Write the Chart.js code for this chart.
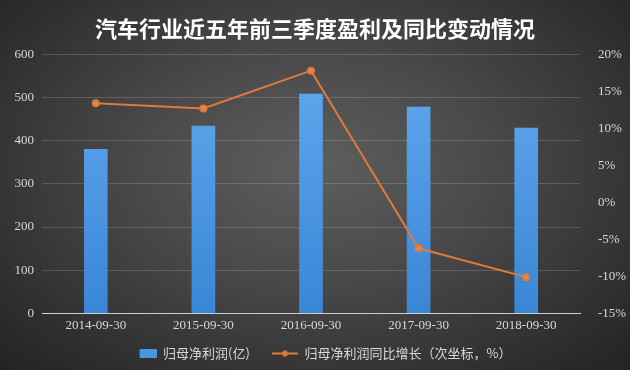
<!DOCTYPE html>
<html>
<head>
<meta charset="utf-8">
<script src="https://cdn.jsdelivr.net/npm/chart.js@4/dist/chart.umd.min.js"></script>
<style>
  html, body { margin: 0; padding: 0; }
  body {
    width: 630px;
    height: 370px;
    background: radial-gradient(ellipse at 50% 45%, #5e5e5e 0%, #494949 40%, #2f2f2f 80%, #232323 100%);
    overflow: hidden;
  }
  #wrap { position: relative; width: 630px; height: 370px; }
</style>
</head>
<body>
<div id="wrap"><canvas id="chart" width="630" height="370"></canvas></div>
<script>
const categories = ["2014-09-30", "2015-09-30", "2016-09-30", "2017-09-30", "2018-09-30"];
const profitValues = [381, 435, 509, 479, 430];
const growthValues = [13.4, 12.7, 17.8, -6.2, -10.1];
const profitLabel = "归母净利润(亿)";
const growthLabel = "归母净利润同比增长（次坐标，%）";
const titleText = "汽车行业近五年前三季度盈利及同比变动情况";

const tickFont = { family: "'Liberation Serif', 'DejaVu Serif', serif", size: 13 };
const cjkFont = "'Noto Sans CJK SC', sans-serif";
const lineColor = "#e07a3a";
const barColor = "#4a96e0";
const markerW = 38;

function barGradient(context) {
  const chart = context.chart;
  const area = chart.chartArea;
  if (!area) return barColor;
  const g = chart.ctx.createLinearGradient(0, area.top, 0, area.bottom);
  g.addColorStop(0, "#62aaf0");
  g.addColorStop(1, "#3a86d6");
  return g;
}

// legend markers, right-aligned inside a wider box so the items get a gap
function lineMarker() {
  const c = document.createElement("canvas");
  c.width = markerW;
  c.height = 10;
  const g = c.getContext("2d");
  g.strokeStyle = lineColor;
  g.lineWidth = 2;
  g.beginPath();
  g.moveTo(markerW - 26, 5);
  g.lineTo(markerW, 5);
  g.stroke();
  g.fillStyle = lineColor;
  g.beginPath();
  g.arc(markerW - 13, 5, 3, 0, Math.PI * 2);
  g.fill();
  return c;
}

function barMarker() {
  const c = document.createElement("canvas");
  c.width = markerW;
  c.height = 9;
  const g = c.getContext("2d");
  g.fillStyle = barColor;
  g.fillRect(markerW - 17, 0, 17, 9);
  return c;
}

const ctx = document.getElementById("chart").getContext("2d");
new Chart(ctx, {
  type: "bar",
  data: {
    labels: categories,
    datasets: [
      {
        type: "line",
        label: growthLabel,
        data: growthValues,
        yAxisID: "y2",
        borderColor: lineColor,
        backgroundColor: lineColor,
        borderWidth: 2,
        pointRadius: 3,
        pointBackgroundColor: "#e8874a",
        pointBorderColor: lineColor,
        tension: 0,
        order: 0
      },
      {
        type: "bar",
        label: profitLabel,
        data: profitValues,
        yAxisID: "y",
        backgroundColor: barGradient,
        barPercentage: 0.22,
        categoryPercentage: 1,
        order: 1
      }
    ]
  },
  options: {
    responsive: false,
    animation: false,
    layout: { padding: { top: 4, bottom: 0, left: 0, right: 0 } },
    scales: {
      x: {
        grid: { display: false, drawTicks: false },
        border: { color: "#cfcfcf", width: 1 },
        ticks: { color: "#d8d8d8", font: tickFont, padding: 4, maxRotation: 0 }
      },
      y: {
        position: "left",
        min: 0,
        max: 600,
        ticks: { stepSize: 100, color: "#d8d8d8", font: tickFont, padding: 8 },
        grid: { color: "rgba(255,255,255,0.16)", drawTicks: false },
        border: { display: false },
        afterFit: scale => { scale.width = 42; }
      },
      y2: {
        position: "right",
        min: -15,
        max: 20,
        ticks: {
          stepSize: 5,
          color: "#d8d8d8",
          font: tickFont,
          padding: 10,
          callback: v => v + "%"
        },
        grid: { display: false },
        border: { display: false },
        afterFit: scale => { scale.width = 50; }
      }
    },
    plugins: {
      title: {
        display: true,
        text: titleText,
        color: "#ffffff",
        font: { family: cjkFont, size: 22, weight: "bold" },
        padding: { top: 11, bottom: 13 }
      },
      legend: {
        position: "bottom",
        reverse: true,
        labels: {
          color: "#d8d8d8",
          font: { family: cjkFont, size: 13 },
          usePointStyle: true,
          pointStyleWidth: markerW,
          padding: 10,
          generateLabels: chart => chart.data.datasets.map((ds, i) => ({
            text: ds.label,
            fillStyle: ds.type === "bar" ? barColor : lineColor,
            strokeStyle: ds.type === "bar" ? barColor : lineColor,
            fontColor: "#d8d8d8",
            lineWidth: 0,
            pointStyle: ds.type === "bar" ? barMarker() : lineMarker(),
            datasetIndex: i
          }))
        }
      },
      tooltip: { enabled: false }
    }
  }
});
</script>
</body>
</html>
